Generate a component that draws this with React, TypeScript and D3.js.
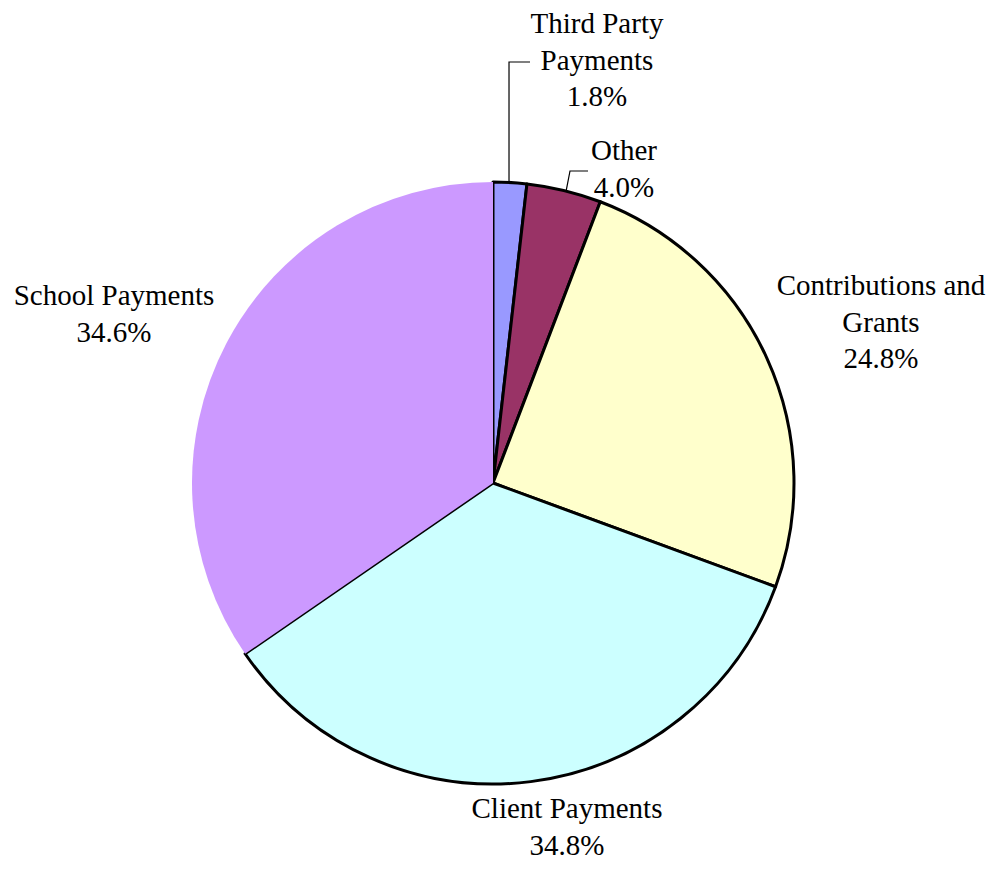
import React from "react";
import * as d3 from "d3";

const categories = ["Third Party Payments", "Other", "Contributions and Grants", "Client Payments", "School Payments"];
const values = [1.8, 4.0, 24.8, 34.8, 34.6];
const colors = ["#9999FF", "#993366", "#FFFFCC", "#CCFFFF", "#CC99FF"];
const labelLines = [
  ["Third Party", "Payments", "1.8%"],
  ["Other", "4.0%"],
  ["Contributions and", "Grants", "24.8%"],
  ["Client Payments", "34.8%"],
  ["School Payments", "34.6%"],
];

const W = 995, H = 869;
const CX = 493, CY = 483, R = 301;
const FONT = 29;
const LINE = 36.5;
// label layout: center x, first baseline y
const labelLayout = [
  { x: 597, y: 33 },
  { x: 624, y: 160 },
  { x: 881, y: 295 },
  { x: 567, y: 818 },
  { x: 114, y: 305 },
];

export default function App() {
  const pie = d3.pie<number>().sort(null).value((d) => d);
  const arcs = pie(values);
  const arc = d3.arc<d3.PieArcDatum<number>>().innerRadius(0).outerRadius(R);
  const mid = (a: d3.PieArcDatum<number>) => (a.startAngle + a.endAngle) / 2;
  const pt = (a: d3.PieArcDatum<number>) => [CX + R * Math.sin(mid(a)), CY - R * Math.cos(mid(a))];

  const tp = pt(arcs[0]);
  const ot = pt(arcs[1]);
  const leader0 = d3.line()([[tp[0] - 1, tp[1]], [tp[0] - 1, 62], [530, 62]]);
  const leader1 = d3.line()([[ot[0] + 2, ot[1]], [570, 171], [588, 171]]);

  const order = [0, 1, 2, 3, 4];
  return (
    <div style={{ position: "absolute", left: 0, top: 0 }}>
      <svg width={W} height={H} style={{ display: "block", background: "#fff" }}>
        <g transform={`translate(${CX},${CY})`}>
          {order.map((i) => (
            <path
              key={i}
              d={arc(arcs[i]) || ""}
              fill={colors[i]}
              stroke={i === 4 ? "none" : "#000"}
              strokeWidth={i === 4 ? 0 : 3}
              strokeLinejoin="round"
            />
          ))}
        </g>
        <path d={leader0 || ""} fill="none" stroke="#000" strokeWidth={1.2} />
        <path d={leader1 || ""} fill="none" stroke="#000" strokeWidth={1.2} />
        {labelLines.map((lines, i) => (
          <text
            key={categories[i]}
            x={labelLayout[i].x}
            y={labelLayout[i].y}
            textAnchor="middle"
            fontFamily="'Liberation Serif', 'Times New Roman', serif"
            fontSize={FONT}
            fill="#000"
          >
            {lines.map((l, j) => (
              <tspan key={j} x={labelLayout[i].x} y={labelLayout[i].y + j * LINE}>
                {l}
              </tspan>
            ))}
          </text>
        ))}
      </svg>
    </div>
  );
}
